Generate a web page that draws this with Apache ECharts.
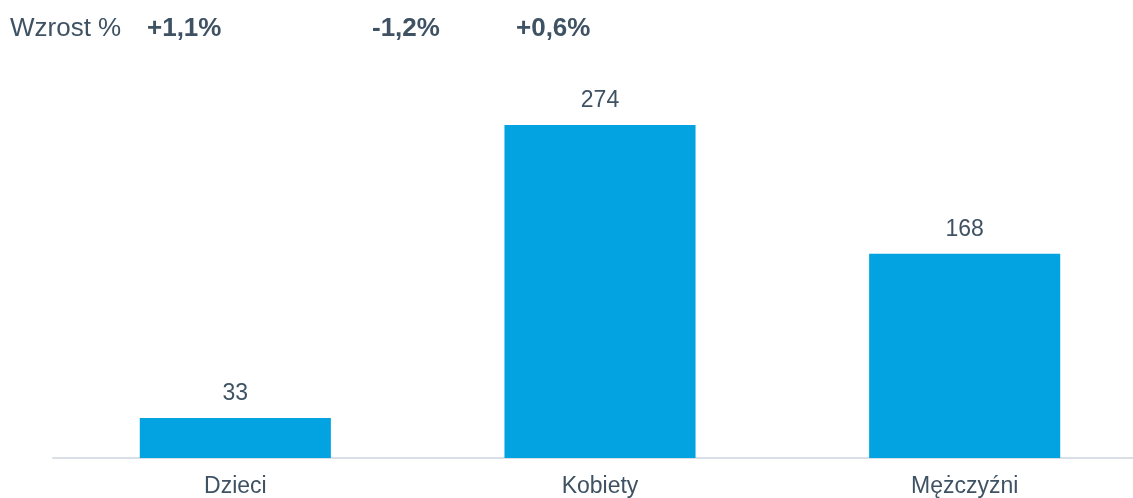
<!DOCTYPE html>
<html>
<head>
<meta charset="utf-8">
<script src="https://cdn.jsdelivr.net/npm/echarts@6/dist/echarts.min.js"></script>
<style>
  html, body { margin: 0; padding: 0; background: #fff; }
  #chart { width: 1133px; height: 498px; }
</style>
</head>
<body>
<div id="chart"></div>
<script>
// kategorie i wartości
var categories = ['Dzieci', 'Kobiety', 'Mężczyźni'];
var values = [33, 274, 168];
// wzrost % (nagłówek)
var growthTitle = 'Wzrost %';
var growthLabels = ['+1,1%', '-1,2%', '+0,6%'];
var growthX = [147, 372, 516];

var textColor = '#3e5263';
var chart = echarts.init(document.getElementById('chart'));

var graphics = [{
  type: 'text', left: 10, top: 16,
  style: { text: growthTitle, fill: textColor, font: '26px "Liberation Sans", Arial, sans-serif' }
}];
growthLabels.forEach(function (t, i) {
  graphics.push({
    type: 'text', left: growthX[i], top: 16,
    style: { text: t, fill: textColor, font: 'bold 26px "Liberation Sans", Arial, sans-serif' }
  });
});

var option = {
  animation: false,
  textStyle: { fontFamily: '"Liberation Sans", Arial, sans-serif' },
  graphic: graphics,
  grid: { left: 53, right: -14, top: 93.4, bottom: 40, containLabel: false, outerBoundsMode: 'none' },
  xAxis: {
    type: 'category',
    data: categories,
    axisLine: { show: true, lineStyle: { color: '#d9dfe6', width: 2 } },
    axisTick: { show: false },
    axisLabel: { color: textColor, fontSize: 23, margin: 17 }
  },
  yAxis: {
    type: 'value',
    min: 0, max: 300,
    show: false,
    splitLine: { show: false }
  },
  series: [{
    type: 'bar',
    data: values,
    barWidth: '52.4%',
    itemStyle: { color: '#02a3e0' },
    label: {
      show: true, position: 'top', distance: 13,
      color: textColor, fontSize: 23
    }
  }]
};
chart.setOption(option);
</script>
</body>
</html>
